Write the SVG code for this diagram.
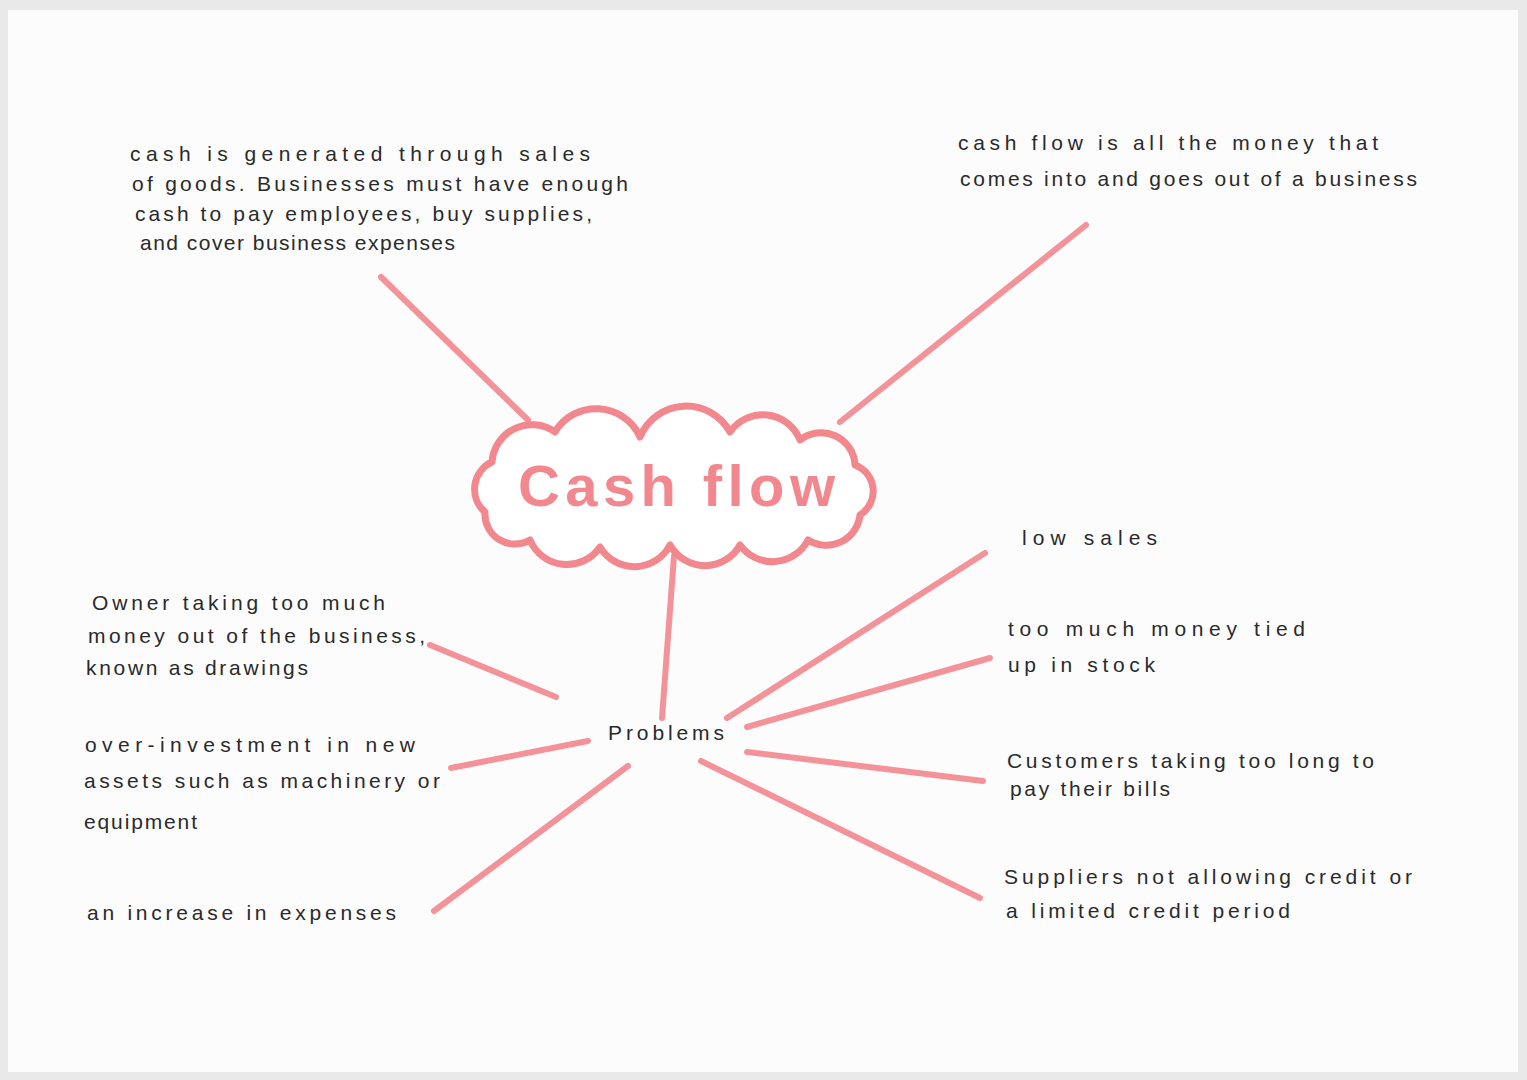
<svg xmlns="http://www.w3.org/2000/svg" width="1527" height="1080" viewBox="0 0 1527 1080">
<style>
.t{font-family:"Liberation Sans",Arial,sans-serif;font-size:21px;fill:#2a2a2a}
.ln{stroke:#f2878e;stroke-width:6;stroke-linecap:round;fill:none;opacity:0.9}
</style>
<rect width="1527" height="1080" fill="#e9e9e9"/>
<rect x="8" y="10" width="1510" height="1062" fill="#fcfcfc"/>
<g id="connectors">
<line class="ln" x1="381" y1="277" x2="528" y2="420"/>
<line class="ln" x1="1086" y1="225" x2="840" y2="422"/>
<line class="ln" x1="674" y1="556" x2="662" y2="718"/>
<line class="ln" x1="430" y1="645" x2="556" y2="697"/>
<line class="ln" x1="451" y1="768" x2="588" y2="741"/>
<line class="ln" x1="628" y1="766" x2="434" y2="911"/>
<line class="ln" x1="727" y1="718" x2="985" y2="553"/>
<line class="ln" x1="747" y1="727" x2="990" y2="658"/>
<line class="ln" x1="747" y1="752" x2="983" y2="781"/>
<line class="ln" x1="701" y1="761" x2="980" y2="898"/>
</g>
<g id="cashflow">
<path d="M492 462 A40 40 0 0 1 555 432 A48 48 0 0 1 640 437 A50 50 0 0 1 730 432 A40 40 0 0 1 800 440 A34 34 0 0 1 855 465 A28 28 0 0 1 860 515 A34 34 0 0 1 808 540 A40 40 0 0 1 740 545 A40 40 0 0 1 670 545 A40 40 0 0 1 600 547 A40 40 0 0 1 530 540 A30 30 0 0 1 485 512 A30 30 0 0 1 492 462 Z" fill="#fff" stroke="#f2878e" stroke-width="7" stroke-linejoin="round"/>
<text x="518" y="506" textLength="317" lengthAdjust="spacing" font-family="'Liberation Sans',Arial,sans-serif" font-size="58" font-weight="bold" fill="#f2878e">Cash flow</text>
</g>
<g id="problems">
<text x="608" y="740" textLength="116" lengthAdjust="spacing" font-family="'Liberation Sans',Arial,sans-serif" font-size="21" fill="#2a2a2a">Problems</text>
</g>
<g id="generated">
<text class="t" x="130" y="161" textLength="460" lengthAdjust="spacing">cash is generated through sales</text>
<text class="t" x="132" y="191" textLength="496" lengthAdjust="spacing">of goods. Businesses must have enough</text>
<text class="t" x="135" y="221" textLength="457" lengthAdjust="spacing">cash to pay employees, buy supplies,</text>
<text class="t" x="140" y="250" textLength="315" lengthAdjust="spacing">and cover business expenses</text>
</g>
<g id="definition">
<text class="t" x="958" y="150" textLength="420" lengthAdjust="spacing">cash flow is all the money that</text>
<text class="t" x="960" y="186" textLength="457" lengthAdjust="spacing">comes into and goes out of a business</text>
</g>
<g id="lowsales"><text class="t" x="1022" y="545" textLength="135" lengthAdjust="spacing">low sales</text></g>
<g id="stock">
<text class="t" x="1008" y="636" textLength="297" lengthAdjust="spacing">too much money tied</text>
<text class="t" x="1008" y="672" textLength="147" lengthAdjust="spacing">up in stock</text>
</g>
<g id="customers">
<text class="t" x="1007" y="768" textLength="367" lengthAdjust="spacing">Customers taking too long to</text>
<text class="t" x="1010" y="796" textLength="160" lengthAdjust="spacing">pay their bills</text>
</g>
<g id="suppliers">
<text class="t" x="1004" y="884" textLength="408" lengthAdjust="spacing">Suppliers not allowing credit or</text>
<text class="t" x="1006" y="918" textLength="284" lengthAdjust="spacing">a limited credit period</text>
</g>
<g id="drawings">
<text class="t" x="92" y="610" textLength="293" lengthAdjust="spacing">Owner taking too much</text>
<text class="t" x="88" y="643" textLength="337" lengthAdjust="spacing">money out of the business,</text>
<text class="t" x="86" y="675" textLength="222" lengthAdjust="spacing">known as drawings</text>
</g>
<g id="overinvestment">
<text class="t" x="85" y="752" textLength="330" lengthAdjust="spacing">over-investment in new</text>
<text class="t" x="84" y="788" textLength="356" lengthAdjust="spacing">assets such as machinery or</text>
<text class="t" x="84" y="829" textLength="113" lengthAdjust="spacing">equipment</text>
</g>
<g id="expenses"><text class="t" x="87" y="920" textLength="309" lengthAdjust="spacing">an increase in expenses</text></g>
</svg>
